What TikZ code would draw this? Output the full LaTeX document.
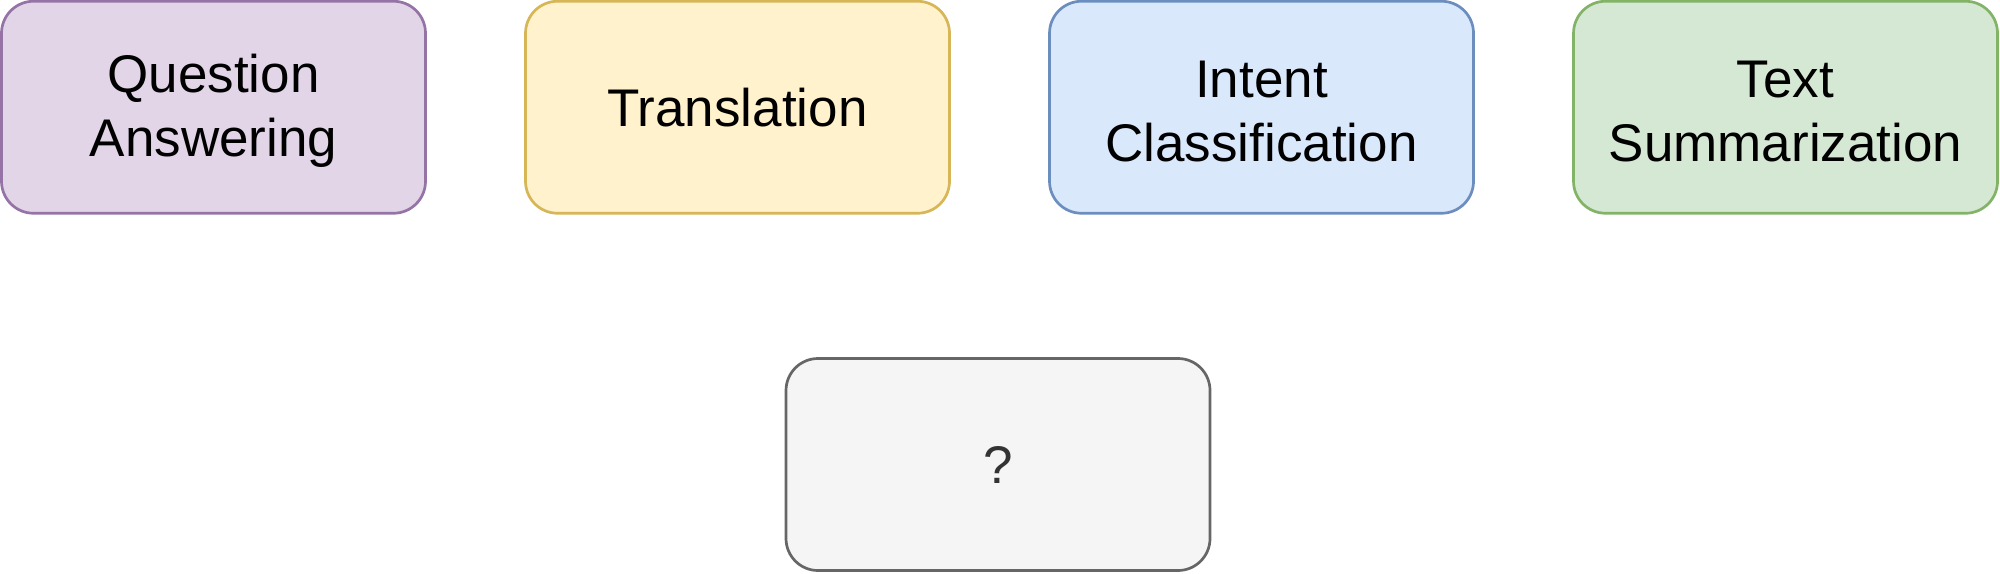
\documentclass[tikz,border=0pt]{standalone}
\usepackage{fontspec}
\setmainfont{Liberation Sans}
\definecolor{pfill}{HTML}{E1D5E7}\definecolor{pdraw}{HTML}{9673A6}
\definecolor{yfill}{HTML}{FFF2CC}\definecolor{ydraw}{HTML}{D6B656}
\definecolor{bfill}{HTML}{DAE8FC}\definecolor{bdraw}{HTML}{6C8EBF}
\definecolor{gfill}{HTML}{D5E8D4}\definecolor{gdraw}{HTML}{82B366}
\definecolor{kfill}{HTML}{F5F5F5}\definecolor{kdraw}{HTML}{666666}
\definecolor{ktext}{HTML}{333333}
\begin{document}
\begin{tikzpicture}[x=0.5pt,y=-0.5pt,
  taskbox/.style={rectangle, rounded corners=16pt, minimum width=212pt, minimum height=106pt,
    line width=1.35pt, align=center, inner sep=0pt,
    font=\fontsize{26.5}{32}\selectfont},
  twoline/.style={label={[taskbox, draw=none, fill=none, yshift=-2pt]center:#1}}]
\useasboundingbox (0,0) rectangle (2000,573);
\node[taskbox, fill=pfill, draw=pdraw] (qa) at (213.5,107.25) {};
\node[taskbox, draw=none, yshift=-2pt] (qat) at (qa.center) {Question\\Answering};
\node[taskbox, fill=yfill, draw=ydraw] (tr) at (737.5,107.25) {Translation};
\node[taskbox, fill=bfill, draw=bdraw] (ic) at (1261.5,107.25) {};
\node[taskbox, draw=none, yshift=-2pt] (ict) at (ic.center) {Intent\\Classification};
\node[taskbox, fill=gfill, draw=gdraw] (ts) at (1785.5,107.25) {};
\node[taskbox, draw=none, yshift=-2pt] (tst) at (ts.center) {Text\\Summarization};
\node[taskbox, fill=kfill, draw=kdraw, text=ktext] (unk) at (998,464.5) {?};
\end{tikzpicture}
\end{document}
